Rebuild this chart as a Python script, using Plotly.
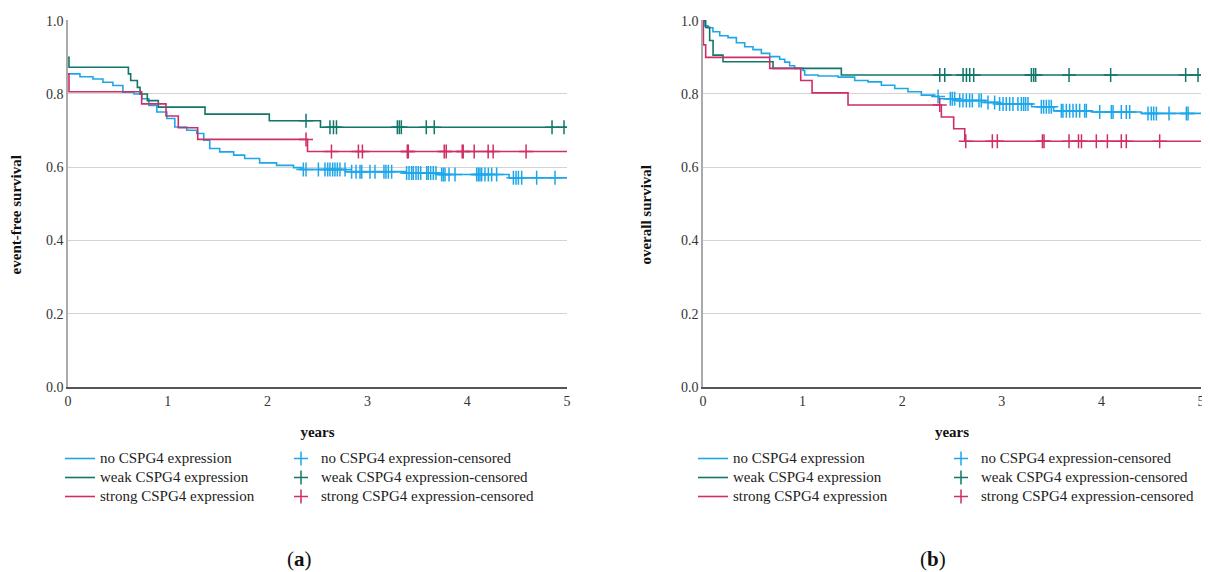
import plotly.graph_objects as go

# ---------------- DATA ----------------
# Panel (a): event-free survival (Kaplan-Meier step points: time in years, survival)
no_a_t = [0, 0.12, 0.25, 0.35, 0.45, 0.55, 0.66, 0.74, 0.81, 0.89, 0.99, 1.07, 1.19, 1.29, 1.36,
          1.42, 1.52, 1.66, 1.77, 1.92, 2.09, 2.26, 2.34, 2.78, 3.38, 3.72, 4.42, 5.0]
no_a_s = [0.855, 0.847, 0.841, 0.832, 0.823, 0.805, 0.800, 0.787, 0.769, 0.751, 0.733, 0.710, 0.701,
          0.692, 0.674, 0.651, 0.642, 0.633, 0.624, 0.612, 0.605, 0.599, 0.594, 0.588, 0.584, 0.580,
          0.571, 0.571]
no_a_cens = [2.358, 2.385, 2.509, 2.575, 2.602, 2.625, 2.652, 2.675, 2.699, 2.725, 2.776, 2.842,
             2.886, 2.926, 2.943, 3.026, 3.076, 3.166, 3.186, 3.210, 3.243, 3.393, 3.417, 3.443,
             3.460, 3.487, 3.510, 3.534, 3.594, 3.610, 3.634, 3.660, 3.687, 3.744, 3.761, 3.778,
             3.818, 3.878, 4.095, 4.112, 4.128, 4.145, 4.178, 4.212, 4.245, 4.295, 4.463, 4.489,
             4.513, 4.546, 4.696, 4.880]

weak_a_t = [0, 0.01, 0.605, 0.628, 0.695, 0.722, 0.795, 0.905, 1.373, 2.017, 2.53, 5.0]
weak_a_s = [0.900, 0.873, 0.855, 0.837, 0.818, 0.800, 0.782, 0.764, 0.745, 0.727, 0.709, 0.709]
weak_a_cens = [2.385, 2.625, 2.66, 2.69, 3.30, 3.32, 3.34, 3.59, 3.67, 4.85, 4.97]

strong_a_t = [0, 0.01, 0.738, 0.982, 1.105, 1.30, 2.40, 5.0]
strong_a_s = [0.855, 0.806, 0.773, 0.740, 0.708, 0.676, 0.643, 0.643]
strong_a_cens = [2.385, 2.64, 2.91, 2.95, 3.40, 3.41, 3.77, 3.79, 3.95, 3.96, 4.07, 4.21, 4.26, 4.59]

# Panel (b): overall survival
no_b_t = [0, 0.017, 0.05, 0.10, 0.168, 0.251, 0.335, 0.419, 0.502, 0.586, 0.670, 0.770, 0.82,
          0.870, 0.920, 1.004, 1.021, 1.155, 1.356, 1.523, 1.657, 1.791, 1.925, 2.058, 2.192,
          2.326, 2.37, 2.55, 2.83, 2.97, 3.30, 3.52, 3.90, 4.40, 5.0]
no_b_s = [1.0, 0.986, 0.981, 0.970, 0.959, 0.954, 0.940, 0.929, 0.921, 0.911, 0.902, 0.895, 0.887,
          0.877, 0.870, 0.864, 0.852, 0.849, 0.846, 0.837, 0.833, 0.824, 0.815, 0.806, 0.797,
          0.793, 0.787, 0.782, 0.777, 0.773, 0.765, 0.754, 0.751, 0.747, 0.747]
no_b_cens = [2.360, 2.483, 2.503, 2.527, 2.577, 2.610, 2.644, 2.677, 2.704, 2.771, 2.794, 2.861,
             2.928, 2.978, 3.012, 3.045, 3.079, 3.112, 3.162, 3.196, 3.219, 3.239, 3.263, 3.397,
             3.420, 3.447, 3.474, 3.497, 3.598, 3.614, 3.648, 3.681, 3.715, 3.748, 3.782, 3.832,
             3.849, 3.983, 4.100, 4.117, 4.200, 4.250, 4.284, 4.468, 4.501, 4.525, 4.552, 4.679,
             4.853, 4.870]

weak_b_t = [0, 0.027, 0.067, 0.101, 0.201, 0.703, 1.389, 5.0]
weak_b_s = [1.0, 0.982, 0.946, 0.906, 0.888, 0.870, 0.852, 0.852]
weak_b_cens = [2.377, 2.427, 2.611, 2.645, 2.678, 2.718, 3.297, 3.320, 3.340, 3.675, 4.093,
               4.846, 4.970]

strong_b_t = [0, 0.004, 0.027, 0.670, 0.981, 1.095, 1.456, 2.393, 2.517, 2.628, 5.0]
strong_b_s = [1.0, 0.934, 0.900, 0.870, 0.837, 0.803, 0.770, 0.737, 0.705, 0.671, 0.671]
strong_b_cens = [2.377, 2.638, 2.905, 2.955, 3.408, 3.424, 3.675, 3.77, 3.80, 3.949, 4.060,
                 4.20, 4.25, 4.585]

group_names = ["no CSPG4 expression", "weak CSPG4 expression", "strong CSPG4 expression"]
x_ticks = [0, 1, 2, 3, 4, 5]
y_ticks = [0.0, 0.2, 0.4, 0.6, 0.8, 1.0]
panel_labels = ["(<b>a</b>)", "(<b>b</b>)"]
y_titles = ["event-free survival", "overall survival"]
x_title = "years"

# ---------------- STYLE ----------------
colors = ["#1ea6ea", "#13766a", "#cf2e66"]
FONT = "Liberation Serif"

# The page body has an 8px margin, so the figure is sized/positioned to fit the 1210x572 window.
OFF = 8
W, H = 1210 - OFF, 572 - OFF


def PX(x):
    return (x - OFF) / W


def PY(y):
    return (572 - y) / H


def step_value(ts, ss, t):
    val = ss[0]
    for ti, si in zip(ts, ss):
        if ti <= t:
            val = si
    return val


def leg_name(s):
    return '<span style="font-size:15px">' + s + '</span>'


def y_title(s):
    # trailing non-breaking spaces nudge the rotated title slightly downward, as in the reference
    return "<b>" + s + "</b>" + "&nbsp;" * 6


panels = [
    [(no_a_t, no_a_s, no_a_cens), (weak_a_t, weak_a_s, weak_a_cens), (strong_a_t, strong_a_s, strong_a_cens)],
    [(no_b_t, no_b_s, no_b_cens), (weak_b_t, weak_b_s, weak_b_cens), (strong_b_t, strong_b_s, strong_b_cens)],
]

fig = go.Figure()
legend_ids = [("legend", "legend2"), ("legend3", "legend4")]
for p, groups in enumerate(panels):
    xa = "x" if p == 0 else "x2"
    ya = "y" if p == 0 else "y2"
    lg_line, lg_cens = legend_ids[p]
    for g, (ts, ss, cens) in enumerate(groups):
        fig.add_trace(go.Scatter(
            x=ts, y=ss, mode="lines", line=dict(color=colors[g], width=1.6, shape="hv"),
            name=leg_name(group_names[g]), xaxis=xa, yaxis=ya, legend=lg_line, legendrank=g + 1,
        ))
    for g, (ts, ss, cens) in enumerate(groups):
        fig.add_trace(go.Scatter(
            x=cens, y=[step_value(ts, ss, c) for c in cens], mode="markers",
            marker=dict(symbol="cross-thin", size=10, color=colors[g],
                        line=dict(color=colors[g], width=1.5)),
            name=leg_name(group_names[g] + "-censored"), xaxis=xa, yaxis=ya, legend=lg_cens,
            legendrank=g + 1,
        ))

axis_common = dict(range=[0, 5], tickvals=x_ticks, ticktext=[str(v) for v in x_ticks],
                   showgrid=False, zeroline=False, showline=True, linecolor="#555555",
                   linewidth=1.5, ticks="", automargin=False,
                   tickfont=dict(family=FONT, size=14, color="#333333"),
                   title=dict(text="<b>" + x_title + "</b>", font=dict(family=FONT, size=15, color="#111111"),
                              standoff=19))
yaxis_common = dict(range=[0, 1.002], tickvals=y_ticks, ticktext=["%.1f" % v for v in y_ticks],
                    showgrid=True, gridcolor="#d3d3d3", gridwidth=1.3, zeroline=False,
                    showline=True, linecolor="#aaaaaa", linewidth=1.5, ticks="", automargin=False,
                    tickfont=dict(family=FONT, size=14, color="#333333"),
                    domain=[PY(387), PY(20)])

fig.update_layout(
    width=W, height=H, margin=dict(l=0, r=0, t=0, b=0, autoexpand=False),
    paper_bgcolor="white", plot_bgcolor="white",
    xaxis=dict(domain=[PX(68), PX(567)], anchor="y", **axis_common),
    xaxis2=dict(domain=[PX(703), PX(1201)], anchor="y2", **axis_common),
    yaxis=dict(anchor="x", title=dict(text=y_title(y_titles[0]),
                                      font=dict(family=FONT, size=15, color="#111111"), standoff=26),
               **yaxis_common),
    yaxis2=dict(anchor="x2", title=dict(text=y_title(y_titles[1]),
                                        font=dict(family=FONT, size=15, color="#111111"), standoff=26),
                **yaxis_common),
    showlegend=True,
)

legend_style = dict(font=dict(family=FONT, size=11, color="#222222"), bgcolor="rgba(0,0,0,0)",
                    yanchor="top", xanchor="left", tracegroupgap=0, itemwidth=30)
LEG_TOP = PY(444)
fig.update_layout(
    legend=dict(x=PX(60), y=LEG_TOP, **legend_style),
    legend2=dict(x=PX(281), y=LEG_TOP, **legend_style),
    legend3=dict(x=PX(693), y=LEG_TOP, **legend_style),
    legend4=dict(x=PX(941), y=LEG_TOP, **legend_style),
)

for lab, xc in zip(panel_labels, [299, 933]):
    fig.add_annotation(x=PX(xc), y=PY(559), xref="paper", yref="paper", text=lab,
                       xanchor="center", yanchor="middle", showarrow=False,
                       font=dict(family=FONT, size=21, color="#111111"))

fig.write_html("out.html")
